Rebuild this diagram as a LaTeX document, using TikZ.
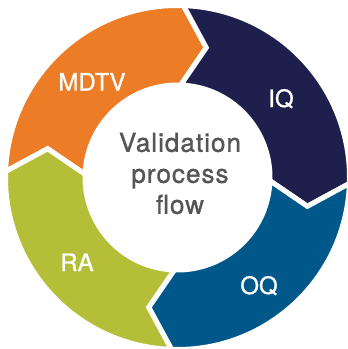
\documentclass[tikz,border=0pt]{standalone}
\usepackage{fontspec}
\setmainfont{TeX Gyre Heros}
\usepackage{tikz}
\usetikzlibrary{positioning}

\definecolor{mdtvorange}{HTML}{EC7C26}
\definecolor{iqnavy}{HTML}{1F1F4E}
\definecolor{oqblue}{HTML}{00578A}
\definecolor{ragreen}{HTML}{B4BE37}
\definecolor{centregray}{HTML}{545557}

\begin{document}
\begin{tikzpicture}[
  x=1pt, y=1pt,
  every node/.style={font=\fontsize{24}{28}\selectfont\addfontfeature{FakeBold=1}},
  seg/.style={draw=white, line width=5pt, line join=miter},
  lbl/.style={text=white, anchor=base, inner sep=0pt},
]
  \useasboundingbox (-177.5,-171.5) rectangle (170.5,177.5);

  % ring of four arrow segments, clockwise, head of each into the next
  \foreach \s/\col in {178/mdtvorange, 88/iqnavy, -2/oqblue, -92/ragreen} {
    \pgfmathsetmacro\e{\s-90}
    \filldraw[seg, fill=\col]
      (\s:172pt) arc[start angle=\s, end angle=\e, radius=172pt]
      -- (\e-10.5:133pt) -- (\e:92.5pt)
      arc[start angle=\e, end angle=\s, radius=92.5pt]
      -- (\s-10.5:133pt) -- cycle;
  }

  \node[lbl] (mdtv) at (-85.5, 87) {MDTV};
  \node[lbl] (iq) at (103.5, 70.5) {IQ};
  \node[lbl] (oq) at (81.5, -116.5) {OQ};
  \node[lbl] (ra) at (-100.5, -93.5) {RA};

  \node[text=centregray, align=center, inner sep=0pt,
        font=\fontsize{26}{31}\selectfont\addfontfeature{LetterSpace=4,FakeBold=1.2}]
       (title) at (2.5, 4) {Validation\\process\\flow};
\end{tikzpicture}
\end{document}
